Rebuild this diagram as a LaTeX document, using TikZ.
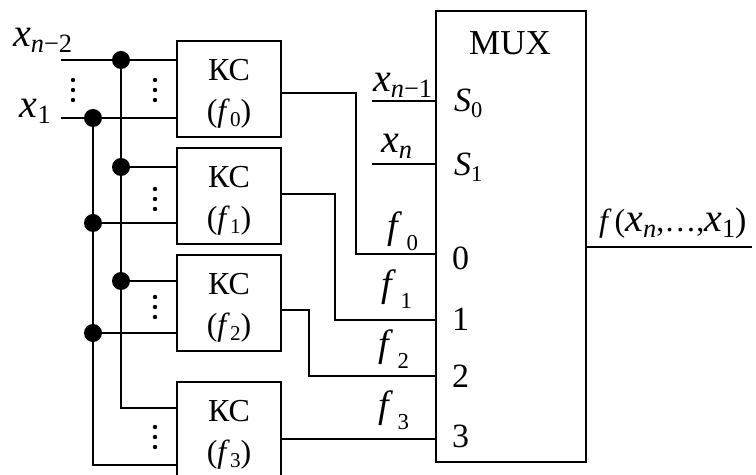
\documentclass[tikz,border=0pt]{standalone}
\usepackage{fontspec}
\setmainfont{Liberation Serif}
\usepackage{tikz}
\newcommand{\sz}[1]{\fontsize{#1}{#1}\selectfont}
\makeatletter
% index set low and small, as in the figure
\newcommand{\lo}[1]{\raisebox{-0.15em}{\fontsize{\fpeval{0.66*\f@size}}{0}\selectfont #1}}
\newcommand{\flo}[1]{\hspace{0.12em}\raisebox{-0.3em}{\fontsize{\fpeval{0.6*\f@size}}{0}\selectfont #1}}
\makeatother

\begin{document}
\begin{tikzpicture}[x=0.5pt, y=-0.5pt, line width=1.1pt,
    ksbox/.style={draw, minimum width=52pt, minimum height=48pt, inner sep=0pt},
    kstext/.style={inner sep=0pt, align=center, yshift=-2.5pt,
      font=\fontsize{16}{20.5}\selectfont},
    muxbox/.style={draw, minimum width=75pt, minimum height=225.5pt, inner sep=0pt},
    xlbl/.style={inner sep=0pt, font=\sz{20}},
    flbl/.style={inner sep=0pt, font=\sz{19}},
    pin/.style={inner sep=0pt, anchor=west, font=\sz{17}}]
  \clip (0,0) rectangle (756,475);
  % blocks
  \foreach \i/\y in {0/89,1/196,2/303,3/430}
    \node[ksbox, label={[kstext]center:КС\\(\textit{f}\lo{\i})}] (ks\i) at (229,\y) {};
  \node[muxbox] (mux) at (511,236.5) {};
  \node[inner sep=0pt, font=\sz{17.5}] (muxname) at (510,43) {MUX};
  % inputs x_{n-2} ... x_1
  \coordinate (ina) at (61,60);
  \coordinate (inb) at (61,118);
  \node[xlbl, anchor=base west] (xa) at (12,47) {\textit{x}\lo{\textit{n}−2}};
  \node[xlbl, anchor=base east] (xb) at (52,118) {\textit{x}\lo{1}};
  \draw (ina) -- (ina -| ks0.west);
  \draw (inb) -- (inb -| ks0.west);
  \foreach \i/\y in {0/60,1/167,2/281,3/408} \coordinate (ja\i) at (121,\y);
  \foreach \i/\y in {0/118,1/223,2/333,3/465} \coordinate (jb\i) at (93,\y);
  \draw (ja0) -- (ja3) -- (ja3 -| ks3.west);
  \draw (jb0) -- (jb3) -- (jb3 -| ks3.west);
  \foreach \i in {1,2} {
    \draw (ja\i) -- (ja\i -| ks\i.west);
    \draw (jb\i) -- (jb\i -| ks\i.west);
  }
  \foreach \i in {0,1,2} {
    \fill (ja\i) circle (4.5pt);
    \fill (jb\i) circle (4.5pt);
  }
  % vertical dots
  \foreach \x/\y in {73/90,155/90,155/199,155/307,155/437}
    \foreach \d in {-10,0,10}
      \fill ({\x},{\y+\d}) circle (1.1pt);
  % outputs of the blocks
  \foreach \i/\y in {0/254,1/320,2/376,3/439} \coordinate (d\i) at (mux.west |- 0,\y);
  \draw (ks0.east |- 0,93) -| (356,254) -- (d0);
  \draw (ks1.east |- 0,194) -| (335,320) -- (d1);
  \draw (ks2.east |- 0,310) -| (309,376) -- (d2);
  \draw (ks3.east |- d3) -- (d3);
  \node[flbl, anchor=base west] (fl0) at (386,239) {\textit{f}\flo{0}};
  \node[flbl, anchor=base west] (fl1) at (380,297) {\textit{f}\flo{1}};
  \node[flbl, anchor=base west] (fl2) at (377,357) {\textit{f}\flo{2}};
  \node[flbl, anchor=base west] (fl3) at (377,418) {\textit{f}\flo{3}};
  % select inputs
  \coordinate (sa) at (372,101);
  \coordinate (sb) at (372,164);
  \draw (sa) -- (sa -| mux.west);
  \draw (sb) -- (sb -| mux.west);
  \node[xlbl, anchor=base west] (xc) at (372,92) {\textit{x}\lo{\textit{n}−1}};
  \node[xlbl, anchor=base west] (xd) at (380,153) {\textit{x}\lo{\textit{n}}};
  % pins of MUX
  \node[pin, anchor=base west] (ps0) at (453,112) {\textit{S}\lo{0}};
  \node[pin, anchor=base west] (ps1) at (453,176) {\textit{S}\lo{1}};
  \foreach \i/\y in {0/258,1/319,2/376,3/436}
    \node[pin] (pd\i) at (451,\y) {\i};
  % output
  \coordinate (fout) at (752,247);
  \draw (mux.east |- fout) -- (fout);
  \node[inner sep=0pt, anchor=base west, font=\sz{20}] (fname) at (598,232)
    {{\sz{16}\textit{f}\hspace{1.5pt}(}\textit{x}\lo{\textit{n}}{\sz{16},…,}\textit{x}\lo{1}{\sz{17})}};
\end{tikzpicture}
\end{document}
